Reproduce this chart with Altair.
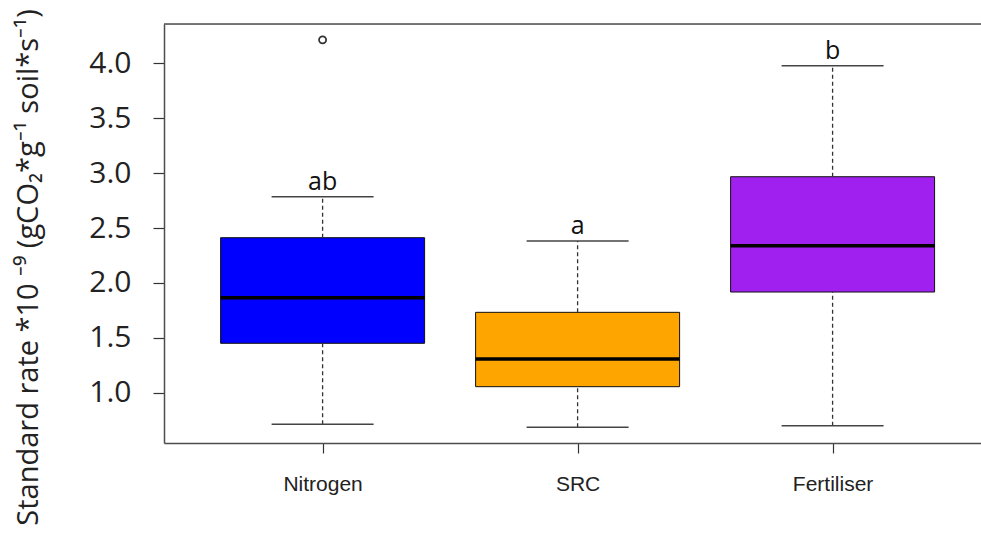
import altair as alt
import pandas as pd

groups = ["Nitrogen", "SRC", "Fertiliser"]
positions = [1, 2, 3]
lower_whisker = [0.712, 0.685, 0.70]
q1 = [1.45, 1.055, 1.917]
median = [1.865, 1.307, 2.339]
q3 = [2.412, 1.732, 2.967]
upper_whisker = [2.785, 2.382, 3.978]
colors = ["#0000FF", "#FFA500", "#A020F0"]
letters = ["ab", "a", "b"]
outlier_pos = [1]
outlier_values = [4.214]
y_ticks = [1.0, 1.5, 2.0, 2.5, 3.0, 3.5, 4.0]

W, H = 817, 419

df = pd.DataFrame({
    "group": groups,
    "pos": positions,
    "lw": lower_whisker,
    "q1": q1,
    "med": median,
    "q3": q3,
    "uw": upper_whisker,
    "letter": letters,
})
df["bl"] = df["pos"] - 0.4
df["br"] = df["pos"] + 0.4
df["cl"] = df["pos"] - 0.2
df["cr"] = df["pos"] + 0.2
out_df = pd.DataFrame({"pos": outlier_pos, "val": outlier_values})

label_expr = "[" + ",".join("'" + g + "'" for g in groups) + "][datum.value - 1]"

xscale = alt.Scale(domain=[0.378, 3.582], nice=False, zero=False)
yscale = alt.Scale(domain=[0.542, 4.358], nice=False, zero=False)

x_axis = alt.Axis(values=positions, labelExpr=label_expr, title=None, grid=False,
                  domain=True, domainColor="#4d4d4d", domainWidth=1.5,
                  tickColor="#333333", tickSize=10, tickWidth=1.2,
                  labelFont="Liberation Sans Narrow, Liberation Sans", labelFontSize=21,
                  labelColor="#222222", labelPadding=20)
y_axis = alt.Axis(values=y_ticks, format=".1f", grid=False,
                  title="Standard rate *10 \u207b\u2079 (gCO\u2082*g\u207b\u00b9 soil*s\u207b\u00b9)",
                  titleFont="Open Sans", titleFontSize=29, titleFontWeight="normal",
                  titleColor="#222222", titleAngle=-90, titleX=-136, titleY=243,
                  titleAlign="center", titleBaseline="middle",
                  domain=True, domainColor="#4d4d4d", domainWidth=1.5,
                  tickColor="#333333", tickSize=11, tickWidth=1.2,
                  labelFont="Open Sans", labelFontSize=30, labelColor="#222222",
                  labelPadding=22)

base = alt.Chart(df)

boxes = base.mark_rect(stroke="#111111", strokeWidth=1).encode(
    x=alt.X("bl:Q", scale=xscale, axis=x_axis),
    x2="br:Q",
    y=alt.Y("q1:Q", scale=yscale, axis=y_axis),
    y2="q3:Q",
    color=alt.Color("group:N", scale=alt.Scale(domain=groups, range=colors), legend=None),
)

whisk_up = base.mark_rule(color="#333333", strokeWidth=1.3, strokeDash=[4, 3]).encode(
    x=alt.X("pos:Q", scale=xscale, axis=x_axis),
    y=alt.Y("q3:Q", scale=yscale, axis=y_axis),
    y2="uw:Q",
)
whisk_lo = base.mark_rule(color="#333333", strokeWidth=1.3, strokeDash=[4, 3]).encode(
    x=alt.X("pos:Q", scale=xscale, axis=x_axis),
    y=alt.Y("lw:Q", scale=yscale, axis=y_axis),
    y2="q1:Q",
)
cap_up = base.mark_rule(color="#444444", strokeWidth=1.5).encode(
    x=alt.X("cl:Q", scale=xscale, axis=x_axis),
    x2="cr:Q",
    y=alt.Y("uw:Q", scale=yscale, axis=y_axis),
)
cap_lo = base.mark_rule(color="#444444", strokeWidth=1.5).encode(
    x=alt.X("cl:Q", scale=xscale, axis=x_axis),
    x2="cr:Q",
    y=alt.Y("lw:Q", scale=yscale, axis=y_axis),
)
medians = base.mark_rule(color="#000000", strokeWidth=3.5).encode(
    x=alt.X("bl:Q", scale=xscale, axis=x_axis),
    x2="br:Q",
    y=alt.Y("med:Q", scale=yscale, axis=y_axis),
)
texts = base.mark_text(font="Open Sans", fontSize=25, color="#111111",
                       baseline="alphabetic", dy=-7).encode(
    x=alt.X("pos:Q", scale=xscale, axis=x_axis),
    y=alt.Y("uw:Q", scale=yscale, axis=y_axis),
    text="letter:N",
)
outliers = alt.Chart(out_df).mark_point(shape="circle", filled=False, size=50,
                                         color="#333333", strokeWidth=1.8, opacity=1).encode(
    x=alt.X("pos:Q", scale=xscale, axis=x_axis),
    y=alt.Y("val:Q", scale=yscale, axis=y_axis),
)
top_line = alt.Chart(out_df).mark_rule(color="#4d4d4d", strokeWidth=1.5).encode(
    x=alt.value(0), x2=alt.value(W), y=alt.value(0)
)

chart = alt.layer(
    boxes, whisk_up, whisk_lo, cap_up, cap_lo, medians, texts, outliers, top_line
).properties(
    width=W, height=H,
    padding={"left": 164, "top": 24, "right": 0, "bottom": 97},
    autosize=alt.AutoSizeParams(type="none"),
).configure_view(stroke=None).configure(background="white")

chart.save("out.html", embed_options={"renderer": "svg", "actions": False})
